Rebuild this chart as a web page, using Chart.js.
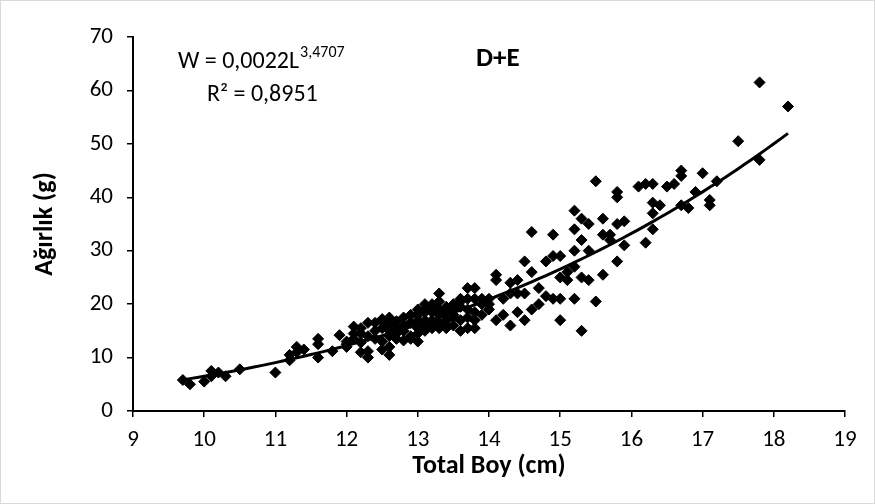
<!DOCTYPE html>
<html>
<head>
<meta charset="utf-8">
<script src="https://cdn.jsdelivr.net/npm/chart.js@4/dist/chart.umd.min.js"></script>
<style>
html,body{margin:0;padding:0;background:#fff;}
#wrap{width:875px;height:504px;}
</style>
</head>
<body>
<div id="wrap"><canvas id="c" width="875" height="504"></canvas></div>
<script>
// ---- data ----
const lengthCm = [
 9.7, 9.8, 10.0, 10.1, 10.1, 10.2, 10.3, 10.5, 11.0, 11.2, 11.2, 11.3, 11.3, 11.4, 11.6, 11.6, 11.6, 11.8, 11.9,
 12.0, 12.0, 12.0, 12.1, 12.1, 12.1, 12.2, 12.2, 12.2, 12.2, 12.3, 12.3, 12.3, 12.3, 12.4, 12.4, 12.4, 12.5, 12.5, 12.5, 12.5, 12.5,
 12.6, 12.6, 12.6, 12.6, 12.6, 12.6, 12.7, 12.7, 12.7, 12.7, 12.8, 12.8, 12.8, 12.8, 12.9, 12.9, 12.9, 12.9,
 13.0, 13.0, 13.0, 13.0, 13.0, 13.0, 13.0, 13.1, 13.1, 13.1, 13.1, 13.1, 13.1, 13.2, 13.2, 13.2, 13.2, 13.2, 13.2,
 13.3, 13.3, 13.3, 13.3, 13.3, 13.3, 13.4, 13.4, 13.4, 13.4, 13.4, 13.5, 13.5, 13.5, 13.5, 13.5,
 13.6, 13.6, 13.6, 13.6, 13.6, 13.7, 13.7, 13.7, 13.7, 13.7, 13.8, 13.8, 13.8, 13.8, 13.8, 13.9, 13.9, 13.9,
 14.0, 14.0, 14.0, 14.1, 14.1, 14.1, 14.2, 14.2, 14.3, 14.3, 14.3, 14.4, 14.4, 14.4, 14.5, 14.5, 14.5,
 14.6, 14.6, 14.6, 14.7, 14.7, 14.8, 14.8, 14.9, 14.9, 14.9, 15.0, 15.0, 15.0, 15.0, 15.1, 15.1,
 15.2, 15.2, 15.2, 15.2, 15.2, 15.3, 15.3, 15.3, 15.3, 15.4, 15.4, 15.4, 15.5, 15.5, 15.6, 15.6, 15.6,
 15.7, 15.7, 15.8, 15.8, 15.8, 15.8, 15.9, 15.9, 16.1, 16.2, 16.2, 16.3, 16.3, 16.3, 16.3, 16.4, 16.5, 16.6,
 16.7, 16.7, 16.7, 16.8, 16.9, 17.0, 17.1, 17.1, 17.2, 17.5, 17.8, 17.8, 18.2
];
const weightG = [
 5.8, 5.0, 5.5, 7.5, 6.5, 7.2, 6.5, 7.8, 7.2, 9.5, 10.5, 12.0, 11.0, 11.5, 10.0, 13.5, 12.5, 11.2, 14.2,
 12.0, 13.0, 12.5, 15.8, 14.5, 13.5, 11.0, 14.5, 12.8, 15.5, 16.5, 10.0, 14.0, 11.2, 15.0, 13.5, 16.5, 17.2, 11.5, 15.5, 13.0, 16.8,
 10.5, 17.5, 14.0, 12.0, 15.0, 16.2, 13.5, 14.5, 16.8, 15.5, 13.2, 15.0, 17.5, 16.0, 14.0, 16.5, 18.0, 13.5,
 13.0, 16.0, 18.0, 14.5, 17.0, 15.5, 19.0, 15.0, 19.0, 17.0, 16.0, 18.5, 20.0, 20.0, 16.0, 18.5, 17.0, 15.5, 19.5,
 22.0, 15.5, 19.0, 16.5, 18.0, 20.5, 17.0, 16.0, 18.5, 19.5, 15.5, 20.0, 18.0, 16.0, 17.5, 19.0,
 15.0, 21.0, 17.0, 19.5, 20.5, 23.0, 15.5, 19.0, 17.5, 21.0, 23.0, 17.0, 21.0, 18.5, 15.5, 20.0, 18.0, 21.0,
 21.0, 19.0, 20.0, 25.5, 24.5, 17.0, 18.0, 21.0, 16.0, 22.0, 24.0, 24.5, 22.0, 18.5, 17.0, 28.0, 22.0,
 33.5, 26.0, 19.0, 20.0, 23.0, 28.0, 21.5, 33.0, 29.0, 21.0, 17.0, 21.0, 25.0, 29.0, 24.5, 26.0,
 37.5, 34.0, 30.0, 27.0, 21.0, 15.0, 36.0, 32.0, 25.0, 35.0, 30.0, 24.5, 43.0, 20.5, 36.0, 33.0, 25.5,
 33.0, 32.0, 41.0, 40.0, 35.0, 28.0, 35.5, 31.0, 42.0, 42.5, 31.5, 42.5, 39.0, 37.0, 34.0, 38.5, 42.0, 42.5,
 45.0, 44.0, 38.5, 38.0, 41.0, 44.5, 39.5, 38.5, 43.0, 50.5, 61.5, 47.0, 57.0
];
// power trendline shown on the chart: W = a * L^b
const fitA = 0.0022;
const fitB = 3.4707;
const fitRange = [9.7, 18.2];
const xTicks = [9, 10, 11, 12, 13, 14, 15, 16, 17, 18, 19];
const yTicks = [0, 10, 20, 30, 40, 50, 60, 70];

const points = lengthCm.map((L, i) => ({x: L, y: weightG[i]}));
const fitPts = [];
const nSteps = 85;
for (let k = 0; k <= nSteps; k++) {
  const L = fitRange[0] + (fitRange[1] - fitRange[0]) * k / nSteps;
  fitPts.push({x: L, y: fitA * Math.pow(L, fitB)});
}

const FONT = "Carlito, Lato, 'Liberation Sans', sans-serif";

const framePlugin = {
  id: 'frame',
  beforeDraw(chart) {
    const ctx = chart.ctx;
    ctx.save();
    ctx.fillStyle = '#fff';
    ctx.fillRect(0, 0, chart.width, chart.height);
    ctx.strokeStyle = '#d9d9d9';
    ctx.lineWidth = 1;
    ctx.strokeRect(0.5, 0.5, chart.width - 1, chart.height - 1);
    ctx.restore();
  },
  afterDraw(chart) {
    const ctx = chart.ctx;
    ctx.save();
    ctx.fillStyle = '#000';
    ctx.textBaseline = 'alphabetic';
    ctx.textAlign = 'left';
    ctx.font = '24px ' + FONT;
    const main = 'W = 0,0022L';
    ctx.fillText(main, 178, 68);
    const w = ctx.measureText(main).width;
    ctx.font = '16px ' + FONT;
    ctx.fillText('3,4707', 178 + w + 1, 57);
    ctx.font = '24px ' + FONT;
    ctx.fillText('R² = 0,8951', 207, 101);
    ctx.font = 'bold 27px ' + FONT;
    ctx.fillText('D+E', 476, 66);
    ctx.restore();
  }
};

new Chart(document.getElementById('c'), {
  type: 'scatter',
  data: {
    datasets: [
      {
        label: 'fit',
        data: fitPts,
        showLine: true,
        borderColor: '#000',
        borderWidth: 3,
        pointRadius: 0,
        tension: 0,
        order: 0
      },
      {
        label: 'D+E',
        data: points,
        pointStyle: 'rectRot',
        pointRadius: 5.5,
        backgroundColor: '#000',
        borderColor: '#000',
        borderWidth: 1,
        order: 1
      }
    ]
  },
  options: {
    responsive: false,
    devicePixelRatio: 1,
    animation: false,
    layout: {padding: {left: 0, top: 37, right: 30, bottom: 0}},
    plugins: {legend: {display: false}, tooltip: {enabled: false}},
    scales: {
      x: {
        type: 'linear',
        min: 9, max: 19,
        afterFit(s) { s.height = 93; },
        afterBuildTicks(s) { s.ticks = xTicks.map(v => ({value: v})); },
        ticks: {color: '#000', font: {size: 23, family: FONT}, padding: 9, maxRotation: 0},
        grid: {drawOnChartArea: false, drawTicks: true, tickLength: 6, color: '#000', lineWidth: 1.5},
        border: {display: true, color: '#000', width: 2},
        title: {display: true, text: 'Total Boy (cm)', color: '#000',
                font: {size: 26, weight: 'bold', family: FONT}, padding: {top: 0, bottom: 22}}
      },
      y: {
        type: 'linear',
        min: 0, max: 70,
        afterFit(s) { s.width = 133; },
        afterBuildTicks(s) { s.ticks = yTicks.map(v => ({value: v})); },
        ticks: {color: '#000', font: {size: 23, family: FONT}, padding: 14},
        grid: {drawOnChartArea: false, drawTicks: true, tickLength: 6, color: '#000', lineWidth: 1.5},
        border: {display: true, color: '#000', width: 2},
        title: {display: true, text: 'Ağırlık (g)', color: '#000',
                font: {size: 26, weight: 'bold', family: FONT}, padding: {top: 30, bottom: 0}}
      }
    }
  },
  plugins: [framePlugin]
});
</script>
</body>
</html>
